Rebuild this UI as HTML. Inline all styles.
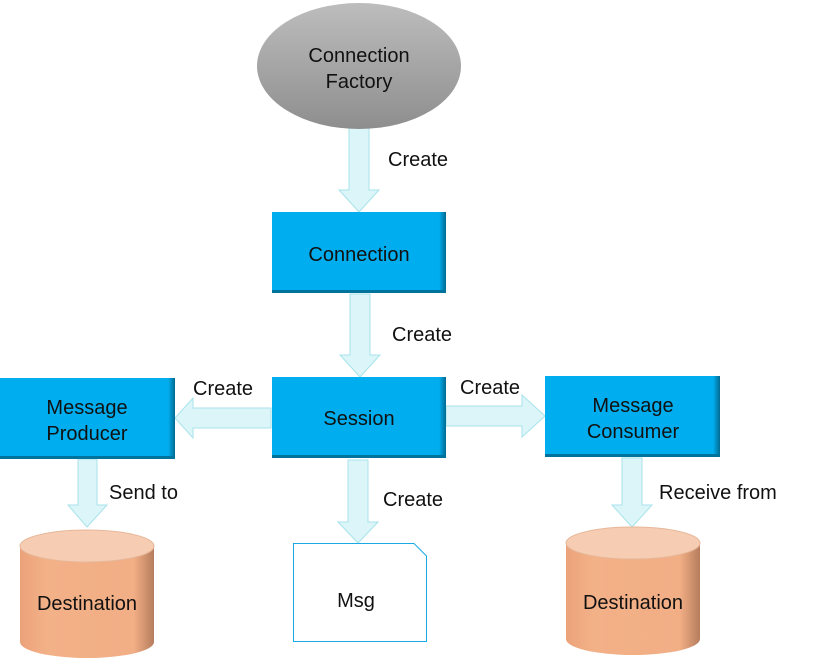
<!DOCTYPE html>
<html><head><style>
body{margin:0;background:#fff;}
svg text{font-family:"Liberation Sans",sans-serif;font-size:20px;fill:#111;}
</style></head><body>
<svg width="817" height="660" viewBox="0 0 817 660" xmlns="http://www.w3.org/2000/svg">
<defs>
<linearGradient id="g" x1="0" y1="0" x2="0" y2="1"><stop offset="0" stop-color="#bdbdbd"/><stop offset="1" stop-color="#8e8e8e"/></linearGradient>
<linearGradient id="cy" x1="0" y1="0" x2="1" y2="0"><stop offset="0" stop-color="#eba27a"/><stop offset="0.2" stop-color="#f3b188"/><stop offset="0.85" stop-color="#f2ae85"/><stop offset="1" stop-color="#b57d5d"/></linearGradient>
<linearGradient id="bx" x1="0" y1="0" x2="1" y2="0"><stop offset="0" stop-color="#00aeef"/><stop offset="0.96" stop-color="#00aeef"/><stop offset="1" stop-color="#006a90"/></linearGradient>
</defs>
<g fill="#dbf5f9" stroke="#a7e3ea" stroke-width="1">
<polygon points="349,128 369,128 369,190 379,190 359,212 339,190 349,190"/>
<polygon points="350,294 370,294 370,355 380,355 360,377 340,355 350,355"/>
<polygon points="348,460 368,460 368,522 378,522 358,543 338,522 348,522"/>
<polygon points="78,459 97,459 97,505 107,505 87,527 68,505 78,505"/>
<polygon points="622,458 642,458 642,505 652,505 632,527 612,505 622,505"/>
<polygon points="271,408 271,428 193,428 193,438 175,418 193,398 193,408"/>
<polygon points="446,406 446,426 522,426 522,437 545,416 522,395 522,406"/>
</g>
<ellipse cx="359" cy="66" rx="102" ry="63" fill="url(#g)"/>
<text x="359" y="62" text-anchor="middle">Connection</text>
<text x="359" y="88" text-anchor="middle">Factory</text>
<rect x="272" y="212" width="174" height="81" fill="url(#bx)"/>
<rect x="272" y="290" width="174" height="3" fill="#00739c"/>
<text x="359" y="261" text-anchor="middle">Connection</text>
<rect x="272" y="377" width="174" height="81" fill="url(#bx)"/>
<rect x="272" y="455" width="174" height="3" fill="#00739c"/>
<text x="359" y="425" text-anchor="middle">Session</text>
<rect x="0" y="378" width="175" height="81" fill="url(#bx)"/>
<rect x="0" y="456" width="175" height="3" fill="#00739c"/>
<text x="87" y="414" text-anchor="middle">Message</text>
<text x="87" y="440" text-anchor="middle">Producer</text>
<rect x="545" y="376" width="175" height="81" fill="url(#bx)"/>
<rect x="545" y="454" width="175" height="3" fill="#00739c"/>
<text x="633" y="412" text-anchor="middle">Message</text>
<text x="633" y="438" text-anchor="middle">Consumer</text>
<polygon points="293.5,543.5 414,543.5 426.5,556 426.5,641.5 293.5,641.5" fill="#fff" stroke="#1ba9e6" stroke-width="1"/>
<text x="356" y="607" text-anchor="middle">Msg</text>
<path d="M20,546 L20,642 A67,16 0 0 0 154,642 L154,546 Z" fill="url(#cy)"/>
<ellipse cx="87" cy="546" rx="67" ry="16" fill="#f6cdb2" stroke="#e6b79a"/>
<text x="87" y="610" text-anchor="middle">Destination</text>
<path d="M566,543 L566,639 A67,16 0 0 0 700,639 L700,543 Z" fill="url(#cy)"/>
<ellipse cx="633" cy="543" rx="67" ry="16" fill="#f6cdb2" stroke="#e6b79a"/>
<text x="633" y="609" text-anchor="middle">Destination</text>
<text x="388" y="166">Create</text>
<text x="392" y="341">Create</text>
<text x="193" y="395">Create</text>
<text x="460" y="394">Create</text>
<text x="383" y="506">Create</text>
<text x="109" y="499">Send to</text>
<text x="659" y="499">Receive from</text>
</svg>
</body></html>
